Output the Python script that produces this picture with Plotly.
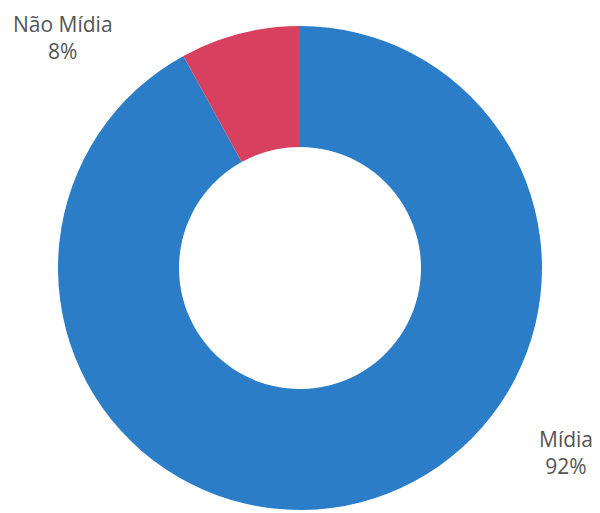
import plotly.graph_objects as go

categories = ["Mídia", "Não Mídia"]
values = [92, 8]
label_texts = ["Mídia<br>92%", "Não Mídia<br>8%"]
colors = ["#2A7DC6", "#D7405E"]

W, H = 600, 513
cx, cy, r = 300, 268, 242

fig = go.Figure(go.Pie(
    labels=categories,
    values=values,
    hole=0.5,
    sort=False,
    direction="clockwise",
    rotation=0,
    marker=dict(colors=colors, line=dict(width=0)),
    textinfo="none",
    hoverinfo="label+percent",
    showlegend=False,
    domain=dict(x=[(cx - r) / W, (cx + r) / W], y=[1 - (cy + r) / H, 1 - (cy - r) / H]),
))

positions = [(566, 452), (63, 37)]
for txt, (x, y) in zip(label_texts, positions):
    fig.add_annotation(
        x=x / W, y=1 - y / H, xref="paper", yref="paper",
        xanchor="center", yanchor="middle",
        text=txt, showarrow=False, align="center",
        font=dict(family="Open Sans", size=21, color="#555555"),
    )

fig.update_layout(
    width=W, height=H,
    margin=dict(l=0, r=0, t=0, b=0),
    paper_bgcolor="white", plot_bgcolor="white",
)

fig.write_html("out.html")
